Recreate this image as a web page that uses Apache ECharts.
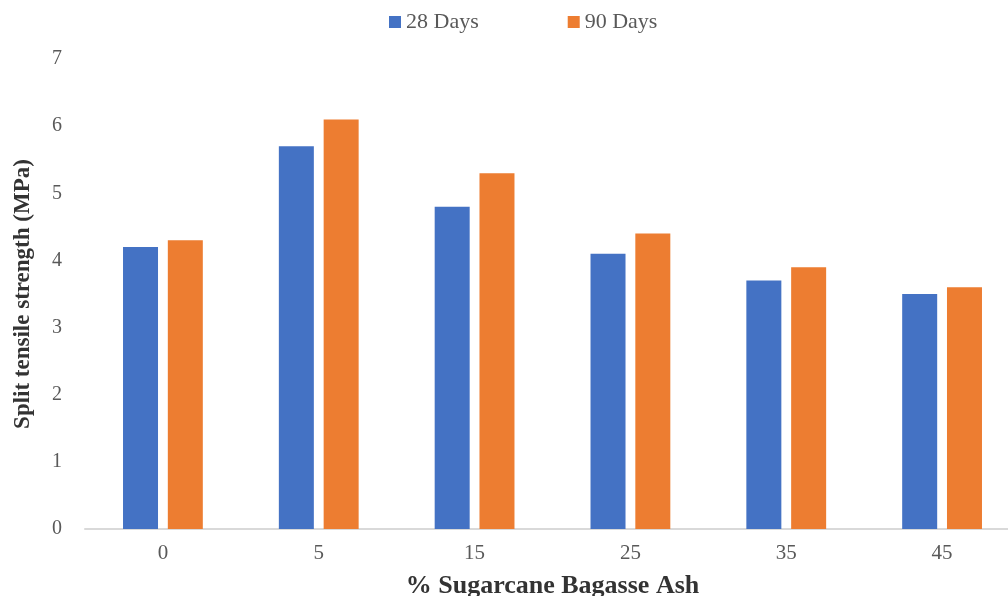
<!DOCTYPE html>
<html><head><meta charset="utf-8">
<script src="https://cdn.jsdelivr.net/npm/echarts@6/dist/echarts.min.js"></script>
<style>html,body{margin:0;padding:0;background:#fff}#c{width:1008px;height:596px}</style>
</head><body><div id="c"></div>
<script>
const categories = ['0','5','15','25','35','45'];
const days28 = [4.2, 5.7, 4.8, 4.1, 3.7, 3.5];
const days90 = [4.3, 6.1, 5.3, 4.4, 3.9, 3.6];
const yTicks = {min:0, max:7, interval:1};
const font = 'Liberation Serif';
const chart = echarts.init(document.getElementById('c'));
chart.setOption({
  animation:false,
  textStyle:{fontFamily:font},
  legend:{top:6, left:384, itemWidth:12, itemHeight:12, itemGap:89,
    icon:'rect', textStyle:{fontFamily:font, fontSize:22, color:'#595959'},
    data:['28 Days','90 Days']},
  grid:{left:85, right:-12, top:59, bottom:67, containLabel:false, outerBoundsMode:'none'},
  xAxis:{type:'category', data:categories,
    axisLine:{lineStyle:{color:'#d9d9d9', width:2}}, axisTick:{show:false},
    axisLabel:{fontFamily:font, fontSize:21, color:'#595959', margin:14},
    name:'% Sugarcane Bagasse Ash', nameLocation:'middle', nameGap:44,
    nameTextStyle:{fontFamily:font, fontSize:26, fontWeight:'bold', color:'#333333'}},
  yAxis:{type:'value', min:yTicks.min, max:yTicks.max, interval:yTicks.interval,
    splitLine:{show:false}, axisLine:{show:false}, axisTick:{show:false},
    axisLabel:{fontFamily:font, fontSize:20, color:'#595959', margin:23},
    name:'Split tensile strength (MPa)', nameLocation:'middle', nameGap:50,
    nameTextStyle:{fontFamily:font, fontSize:23, fontWeight:'bold', color:'#333333'}},
  series:[
    {name:'28 Days', type:'bar', data:days28, barWidth:35, barGap:'28%', itemStyle:{color:'#4472C4'}},
    {name:'90 Days', type:'bar', data:days90, barWidth:35, itemStyle:{color:'#ED7D31'}}
  ]
});
</script></body></html>
